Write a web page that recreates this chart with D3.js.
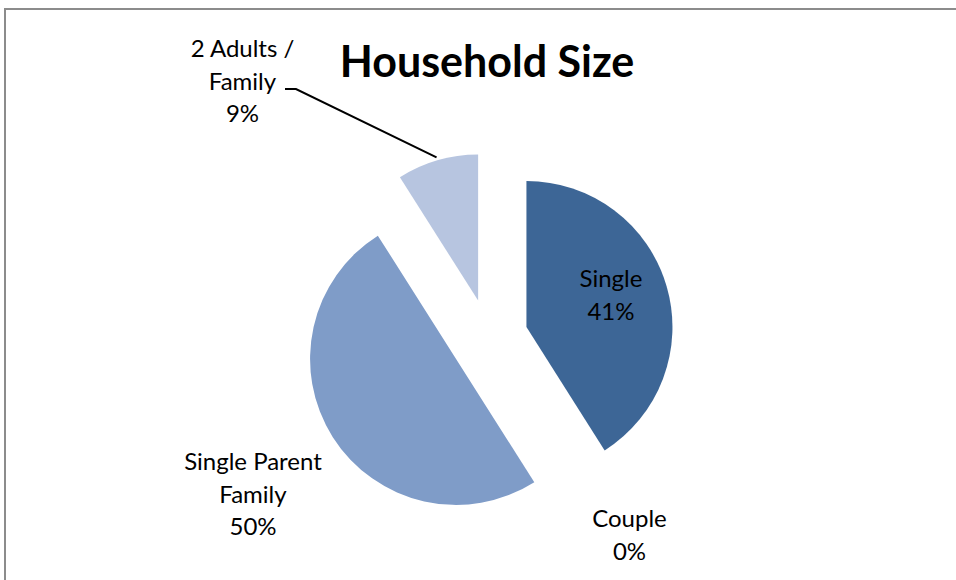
<!DOCTYPE html>
<html>
<head>
<meta charset="utf-8">
<script src="https://cdn.jsdelivr.net/npm/d3@7"></script>
<style>
  html, body { margin: 0; padding: 0; background: #fff; }
  svg { display: block; }
</style>
</head>
<body>
<svg id="chart" width="956" height="580"></svg>
<script>
// Household size breakdown (percent of households)
const categories = ["Single", "Couple", "Single Parent Family", "2 Adults / Family"];
const values = [41, 0, 50, 9];
const labelLines = [["Single", "41%"], ["Couple", "0%"], ["Single Parent", "Family", "50%"], ["2 Adults /", "Family", "9%"]];
const colors = ["#3d6696", "#3d6696", "#7f9cc8", "#b7c5e0"];
const title = "Household Size";

const svg = d3.select("#chart");
const W = 956, H = 580;
const font = "Lato, 'Liberation Sans', sans-serif";

// chart frame
svg.append("path")
  .attr("d", `M5,${H + 5} L5,9 L${W + 5},9`)
  .attr("fill", "none")
  .attr("stroke", "#8c8c8c")
  .attr("stroke-width", 2);

svg.append("text")
  .attr("x", 487).attr("y", 77)
  .attr("text-anchor", "middle")
  .attr("font-family", font)
  .attr("font-weight", "bold")
  .attr("font-size", 43)
  .attr("fill", "#000")
  .text(title);

const cx = 489, cy = 338, radius = 146, explode = 39;

const pie = d3.pie().sort(null).value(d => d.value).startAngle(0).endAngle(2 * Math.PI);
const arcs = pie(categories.map((c, i) => ({ name: c, value: values[i], i })));
const arc = d3.arc().innerRadius(0).outerRadius(radius);

const g = svg.append("g").attr("transform", `translate(${cx},${cy})`);

g.selectAll("path.slice")
  .data(arcs.filter(a => a.value > 0))
  .join("path")
  .attr("class", "slice")
  .attr("d", arc)
  .attr("fill", d => colors[d.data.i])
  .attr("transform", d => {
    const m = (d.startAngle + d.endAngle) / 2;
    return `translate(${explode * Math.sin(m)},${-explode * Math.cos(m)})`;
  });

// label anchor points (first baseline) relative to the pie centre
const labelAt = [[122, -51], [140.5, 189], [-236, 132], [-246.5, -281]];
const lineH = 32.5;

arcs.forEach(a => {
  const lines = labelLines[a.data.i];
  const [lx, ly] = labelAt[a.data.i];
  const t = g.append("text")
    .attr("text-anchor", "middle")
    .attr("font-family", font)
    .attr("font-size", 24)
    .attr("fill", "#000");
  lines.forEach((s, j) => {
    t.append("tspan").attr("x", lx).attr("y", ly + j * lineH).text(s);
  });
});

// leader line for the small slice
const small = arcs[3];
const sm = (small.startAngle + small.endAngle) / 2;
const ox = explode * Math.sin(sm), oy = -explode * Math.cos(sm);
const ex = ox + (radius + 3) * Math.sin(sm), ey = oy - (radius + 3) * Math.cos(sm);
g.append("polyline")
  .attr("points", `${-204},${-249} ${-193},${-249} ${ex},${ey}`)
  .attr("fill", "none")
  .attr("stroke", "#000")
  .attr("stroke-width", 2);
</script>
</body>
</html>
